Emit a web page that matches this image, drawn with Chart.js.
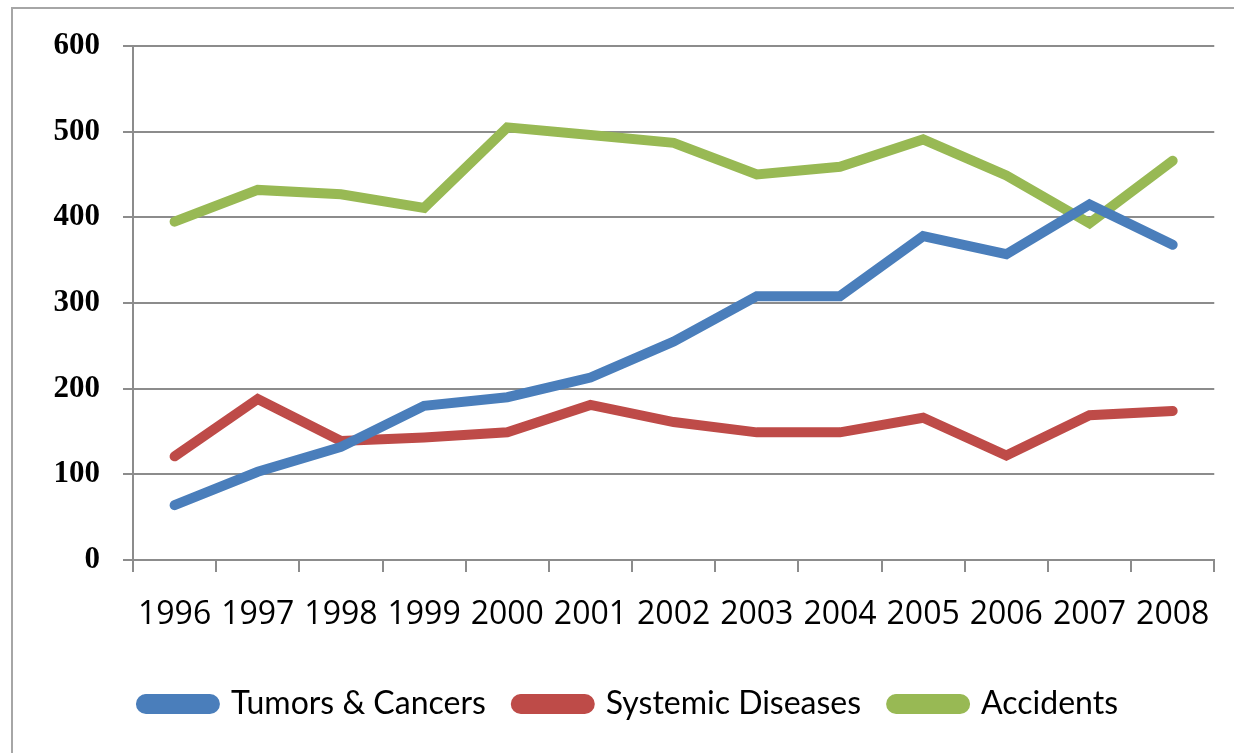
<!DOCTYPE html>
<html>
<head>
<meta charset="utf-8">
<script src="https://cdn.jsdelivr.net/npm/chart.js@4"></script>
<style>
    html, body { margin: 0; padding: 0; background: #fff; overflow: hidden; }
    #wrap { position: relative; width: 1234px; height: 753px; }
    #frame { position: absolute; left: 11px; top: 7px; width: 1300px; height: 800px;
             border: 2px solid #a6a6a6; box-sizing: border-box; pointer-events: none; }
    canvas { position: absolute; left: 0; top: 0; }
</style>
</head>
<body>
<div id="wrap">
    <canvas id="chart" width="1234" height="753"></canvas>
    <div id="frame"></div>
</div>
<script>
const YEARS = ['1996', '1997', '1998', '1999', '2000', '2001', '2002', '2003', '2004', '2005', '2006', '2007', '2008'];
const TUMORS = [64, 103, 132, 180, 190, 213, 255, 308, 308, 378, 357, 415, 368];
const SYSTEMIC = [121, 188, 139, 143, 149, 181, 161, 149, 149, 166, 122, 169, 174];
const ACCIDENTS = [395, 432, 427, 411, 505, 496, 487, 450, 459, 491, 449, 393, 466];
const Y_TICKS = [0, 100, 200, 300, 400, 500, 600];

const GRID = '#8c8c8c';

function lineSet(label, data, color) {
    return {
        label: label,
        data: data,
        borderColor: color,
        backgroundColor: color,
        borderWidth: 10,
        borderCapStyle: 'round',
        borderJoinStyle: 'miter',
        pointRadius: 0,
        tension: 0,
        fill: false
    };
}

let ctx = document.getElementById('chart').getContext('2d');
new Chart(ctx, {
    type: 'line',
    data: {
        labels: YEARS,
        datasets: [
            lineSet('Tumors & Cancers', TUMORS, '#4a7ebb'),
            lineSet('Systemic Diseases', SYSTEMIC, '#be4b48'),
            lineSet('Accidents', ACCIDENTS, '#98b954')
        ]
    },
    options: {
        responsive: false,
        animation: false,
        layout: { padding: { top: 46, right: 19, left: 44, bottom: 23 } },
        scales: {
            x: {
                offset: true,
                grid: { offset: true, drawOnChartArea: false, drawTicks: true, tickLength: 12, color: GRID, lineWidth: 2 },
                border: { color: GRID, width: 2 },
                ticks: { color: '#000', font: { family: '"Open Sans", sans-serif', size: 32 }, padding: 24, maxRotation: 0, autoSkip: false },
                afterFit: s => { s.height = 98; }
            },
            y: {
                min: 0,
                max: 600,
                afterBuildTicks: s => { s.ticks = Y_TICKS.map(v => ({ value: v })); },
                grid: { color: GRID, lineWidth: 2, tickLength: 10 },
                border: { color: GRID, width: 2 },
                ticks: { color: '#000', font: { family: '"Liberation Serif", serif', size: 31, weight: 'bold' }, padding: 23 },
                afterFit: s => { s.width = 89; }
            }
        },
        plugins: {
            legend: {
                position: 'bottom',
                labels: {
                    boxWidth: 74,
                    boxHeight: 10,
                    useBorderRadius: true,
                    borderRadius: 5,
                    padding: 30,
                    color: '#000',
                    font: { family: 'Lato, sans-serif', size: 32 }
                }
            },
            tooltip: { enabled: false }
        }
    }
});
</script>
</body>
</html>
